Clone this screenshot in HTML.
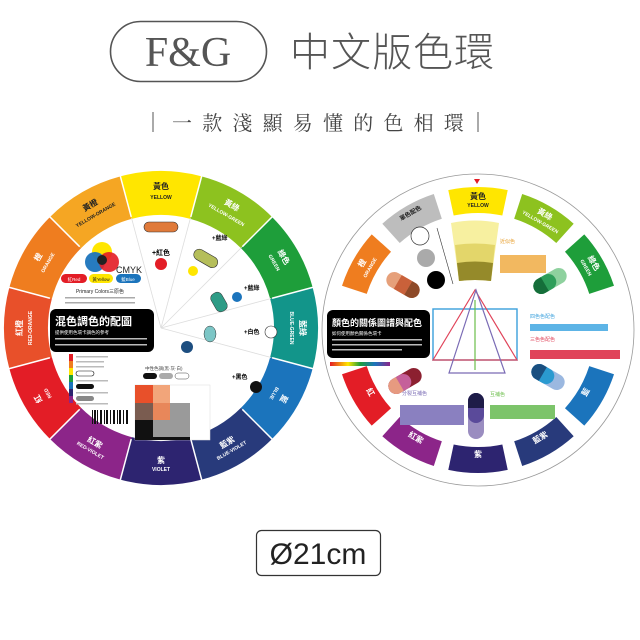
<!DOCTYPE html>
<html><head><meta charset="utf-8"><style>
html,body{margin:0;padding:0;background:#fff;}
svg{display:block;}
text{font-family:"Liberation Sans","Noto Sans CJK TC",sans-serif;}
</style></head><body>
<svg width="640" height="640" viewBox="0 0 640 640" xmlns="http://www.w3.org/2000/svg">
<!-- header -->
<rect x="110.5" y="21.5" width="156" height="60" rx="30" fill="none" stroke="#555" stroke-width="1.6"/>
<text x="188" y="66" text-anchor="middle" font-size="42" fill="#555" style="font-family:'Liberation Serif',serif">F&amp;G</text>
<text x="290" y="66" font-size="40" fill="#555" letter-spacing="1" style="font-family:'Liberation Sans','Noto Sans CJK TC',sans-serif;font-weight:300">中文版色環</text>
<line x1="153" y1="112" x2="153" y2="132" stroke="#555" stroke-width="1"/>
<line x1="478" y1="112" x2="478" y2="132" stroke="#555" stroke-width="1"/>
<text x="172" y="130" font-size="20" fill="#444" letter-spacing="10.2" style="font-family:'Noto Serif CJK SC','Noto Sans CJK TC',serif">一款淺顯易懂的色相環</text>
<!-- bottom box -->
<rect x="256.5" y="530.5" width="124" height="45" rx="5" fill="none" stroke="#333" stroke-width="1.2"/>
<text x="318" y="564" text-anchor="middle" font-size="30" fill="#222">Ø21cm</text>

<!-- LEFT WHEEL -->
<g>
<circle cx="161" cy="328" r="157" fill="#fff"/>
<g fill="none" stroke-width="44" stroke-dasharray="70.69 777.54">
<circle cx="161" cy="328" r="135" stroke="#FFE600" transform="rotate(-105 161 328)"/>
<circle cx="161" cy="328" r="135" stroke="#8DC21F" transform="rotate(-75 161 328)"/>
<circle cx="161" cy="328" r="135" stroke="#1E9E3A" transform="rotate(-45 161 328)"/>
<circle cx="161" cy="328" r="135" stroke="#12958A" transform="rotate(-15 161 328)"/>
<circle cx="161" cy="328" r="135" stroke="#1B74BC" transform="rotate(15 161 328)"/>
<circle cx="161" cy="328" r="135" stroke="#283A7B" transform="rotate(45 161 328)"/>
<circle cx="161" cy="328" r="135" stroke="#2D2470" transform="rotate(75 161 328)"/>
<circle cx="161" cy="328" r="135" stroke="#8C2589" transform="rotate(105 161 328)"/>
<circle cx="161" cy="328" r="135" stroke="#E31D26" transform="rotate(135 161 328)"/>
<circle cx="161" cy="328" r="135" stroke="#E8502A" transform="rotate(165 161 328)"/>
<circle cx="161" cy="328" r="135" stroke="#EF7D1F" transform="rotate(195 161 328)"/>
<circle cx="161" cy="328" r="135" stroke="#F5A623" transform="rotate(225 161 328)"/>
</g>
<g stroke="#fff" stroke-width="1.5">
<line x1="161" y1="213" x2="161" y2="169" transform="rotate(15 161 328)"/>
<line x1="161" y1="213" x2="161" y2="169" transform="rotate(45 161 328)"/>
<line x1="161" y1="213" x2="161" y2="169" transform="rotate(75 161 328)"/>
<line x1="161" y1="213" x2="161" y2="169" transform="rotate(105 161 328)"/>
<line x1="161" y1="213" x2="161" y2="169" transform="rotate(135 161 328)"/>
<line x1="161" y1="213" x2="161" y2="169" transform="rotate(165 161 328)"/>
<line x1="161" y1="213" x2="161" y2="169" transform="rotate(195 161 328)"/>
<line x1="161" y1="213" x2="161" y2="169" transform="rotate(225 161 328)"/>
<line x1="161" y1="213" x2="161" y2="169" transform="rotate(255 161 328)"/>
<line x1="161" y1="213" x2="161" y2="169" transform="rotate(285 161 328)"/>
<line x1="161" y1="213" x2="161" y2="169" transform="rotate(315 161 328)"/>
<line x1="161" y1="213" x2="161" y2="169" transform="rotate(345 161 328)"/>
</g>
<g stroke="#ddd" stroke-width="0.8">
<line x1="161" y1="328" x2="161" y2="214" transform="rotate(-15 161 328)"/>
<line x1="161" y1="328" x2="161" y2="214" transform="rotate(15 161 328)"/>
<line x1="161" y1="328" x2="161" y2="214" transform="rotate(45 161 328)"/>
<line x1="161" y1="328" x2="161" y2="214" transform="rotate(75 161 328)"/>
<line x1="161" y1="328" x2="161" y2="214" transform="rotate(105 161 328)"/>
</g>
<g font-size="8" font-weight="bold" text-anchor="middle">
<g transform="rotate(0 161 328)"><text x="161" y="189" fill="#222">黃色</text><text x="161" y="199" font-size="5" fill="#222">YELLOW</text></g>
<g transform="rotate(30 161 328)"><text x="161" y="189" fill="#fff">黃綠</text><text x="161" y="199" font-size="5" fill="#fff">YELLOW-GREEN</text></g>
<g transform="rotate(60 161 328)"><text x="161" y="189" fill="#fff">綠色</text><text x="161" y="199" font-size="5" fill="#fff">GREEN</text></g>
<g transform="rotate(90 161 328)"><text x="161" y="189" fill="#fff">藍綠</text><text x="161" y="199" font-size="5" fill="#fff">BLUE-GREEN</text></g>
<g transform="rotate(120 161 328)"><text x="161" y="189" fill="#fff">藍</text><text x="161" y="199" font-size="5" fill="#fff">BLUE</text></g>
<g transform="rotate(330 161 328)"><text x="161" y="189" fill="#222">黃橙</text><text x="161" y="199" font-size="5" fill="#222">YELLOW-ORANGE</text></g>
<g transform="rotate(300 161 328)"><text x="161" y="189" fill="#fff">橙</text><text x="161" y="199" font-size="5" fill="#fff">ORANGE</text></g>
<g transform="rotate(270 161 328)"><text x="161" y="189" fill="#fff">紅橙</text><text x="161" y="199" font-size="5" fill="#fff">RED-ORANGE</text></g>
<g transform="rotate(240 161 328)"><text x="161" y="189" fill="#fff">紅</text><text x="161" y="199" font-size="5" fill="#fff">RED</text></g>
<g transform="rotate(150 161 328) rotate(180 161 193)"><text x="161" y="193" fill="#fff">藍紫</text><text x="161" y="201" font-size="5" fill="#fff">BLUE-VIOLET</text></g>
<g transform="rotate(180 161 328) rotate(180 161 193)"><text x="161" y="193" fill="#fff">紫</text><text x="161" y="201" font-size="5" fill="#fff">VIOLET</text></g>
<g transform="rotate(210 161 328) rotate(180 161 193)"><text x="161" y="193" fill="#fff">紅紫</text><text x="161" y="201" font-size="5" fill="#fff">RED-VIOLET</text></g>
</g>
<rect x="144" y="222" width="34" height="10" rx="5" fill="#E07A3A" stroke="#333" stroke-width="0.6"/>
<text x="161" y="255" font-size="7" font-weight="bold" text-anchor="middle">+紅色</text>
<circle cx="161" cy="264" r="6" fill="#E31D26"/>
<rect x="193" y="253" width="26" height="11" rx="5.5" fill="#B5BE5A" stroke="#333" stroke-width="0.6" transform="rotate(30 206 258)"/>
<circle cx="193" cy="271" r="5" fill="#FFE600"/>
<text x="212" y="240" font-size="6" font-weight="bold">+藍綠</text>
<rect x="213" y="292" width="12" height="20" rx="5" fill="#2E9C86" stroke="#333" stroke-width="0.5" transform="rotate(-30 219 302)"/>
<circle cx="237" cy="297" r="5" fill="#1B74BC"/>
<text x="244" y="290" font-size="6" font-weight="bold">+藍綠</text>
<ellipse cx="210" cy="334" rx="6" ry="8" fill="#7CC6C6" stroke="#333" stroke-width="0.5"/>
<text x="244" y="334" font-size="6" font-weight="bold">+白色</text>
<circle cx="271" cy="332" r="6" fill="#fff" stroke="#333" stroke-width="0.6"/>
<circle cx="187" cy="347" r="6" fill="#1D4E80"/>
<text x="232" y="379" font-size="6" font-weight="bold">+黑色</text>
<circle cx="256" cy="387" r="6" fill="#111"/>
<circle cx="102" cy="252" r="10" fill="#FFE600"/>
<circle cx="95" cy="262" r="10" fill="#1B74BC" opacity="0.95"/>
<circle cx="109" cy="262" r="10" fill="#E31D26" opacity="0.9"/>
<circle cx="102" cy="260" r="5" fill="#222"/>
<text x="116" y="273" font-size="9" fill="#222">CMYK</text>
<rect x="61" y="274" width="26" height="9" rx="4.5" fill="#E31D26"/>
<rect x="89" y="274" width="24" height="9" rx="4.5" fill="#FFE600"/>
<rect x="116" y="274" width="25" height="9" rx="4.5" fill="#1B74BC"/>
<text x="74" y="281" font-size="4.5" fill="#fff" text-anchor="middle">紅Red</text>
<text x="101" y="281" font-size="4.5" fill="#222" text-anchor="middle">黃Yellow</text>
<text x="128" y="281" font-size="4.5" fill="#fff" text-anchor="middle">藍Blue</text>
<text x="100" y="293" font-size="5" text-anchor="middle" fill="#222">Primary Colors三原色</text>
<rect x="65" y="297" width="70" height="1.5" fill="#aaa"/><rect x="65" y="302" width="70" height="1.5" fill="#aaa"/>
<rect x="50" y="309" width="104" height="43" rx="6" fill="#000"/>
<text x="55" y="325" font-size="11" font-weight="bold" fill="#fff">混色調色的配圖</text>
<text x="55" y="334" font-size="4.5" fill="#fff">提供使用色環卡調色的參考</text>
<rect x="55" y="338" width="92" height="1.5" fill="#bbb"/><rect x="55" y="344" width="92" height="1.5" fill="#bbb"/>
<g>
<rect x="69" y="354" width="4" height="7" fill="#E31D26"/><rect x="69" y="361" width="4" height="7" fill="#EF7D1F"/><rect x="69" y="368" width="4" height="7" fill="#FFE600"/><rect x="69" y="375" width="4" height="7" fill="#1E9E3A"/><rect x="69" y="382" width="4" height="7" fill="#1B74BC"/><rect x="69" y="389" width="4" height="7" fill="#2D2470"/><rect x="69" y="396" width="4" height="7" fill="#8C2589"/>
</g>
<g fill="#bbb"><rect x="76" y="356" width="32" height="1.5"/><rect x="76" y="361" width="28" height="1.5"/><rect x="76" y="366" width="28" height="1.5"/><rect x="76" y="380" width="32" height="1.5"/><rect x="76" y="392" width="32" height="1.5"/><rect x="76" y="403" width="32" height="1.5"/></g>
<rect x="76" y="371" width="18" height="5" rx="2.5" fill="#fff" stroke="#111" stroke-width="0.6"/>
<rect x="76" y="384" width="18" height="5" rx="2.5" fill="#111"/>
<rect x="76" y="396" width="18" height="5" rx="2.5" fill="#888"/>
<g fill="#111">
<rect x="92" y="410" width="1" height="14"/><rect x="94" y="410" width="2" height="14"/><rect x="97" y="410" width="1" height="14"/><rect x="100" y="410" width="2" height="14"/><rect x="104" y="410" width="1" height="14"/><rect x="106" y="410" width="2" height="14"/><rect x="110" y="410" width="1" height="14"/><rect x="113" y="410" width="2" height="14"/><rect x="117" y="410" width="1" height="14"/><rect x="119" y="410" width="2" height="14"/><rect x="123" y="410" width="1" height="14"/><rect x="126" y="410" width="2" height="14"/>
</g>
<text x="145" y="370" font-size="4.5" fill="#444">中性色調(黑·灰·白)</text>
<rect x="143" y="373" width="14" height="6" rx="3" fill="#111"/>
<rect x="159" y="373" width="14" height="6" rx="3" fill="#aaa"/>
<rect x="175" y="373" width="14" height="6" rx="3" fill="#fff" stroke="#444" stroke-width="0.5"/>
<rect x="135" y="385" width="75" height="55" fill="#fff" stroke="#ddd" stroke-width="0.5"/>
<rect x="135" y="385" width="18" height="18" fill="#E8502A"/>
<rect x="153" y="385" width="17" height="18" fill="#F2A57A"/>
<rect x="135" y="403" width="18" height="17" fill="#7A5C50"/>
<rect x="153" y="403" width="17" height="17" fill="#E8875A"/>
<rect x="170" y="403" width="20" height="37" fill="#9A9A9A"/>
<rect x="153" y="420" width="17" height="17" fill="#9A9A9A"/>
<rect x="135" y="420" width="18" height="20" fill="#111"/>
<rect x="153" y="437" width="37" height="3" fill="#111"/>
</g>

<!-- RIGHT WHEEL -->
<g>
<circle cx="478" cy="330" r="156" fill="#fff" stroke="#999" stroke-width="0.8"/>
<g fill="none" stroke-width="26" stroke-dasharray="54.45 762.35">
<circle cx="478" cy="330" r="130" stroke="#FFE600" transform="rotate(-102 478 330)"/>
<circle cx="478" cy="330" r="130" stroke="#8DC21F" transform="rotate(-72 478 330)"/>
<circle cx="478" cy="330" r="130" stroke="#1E9E3A" transform="rotate(-42 478 330)"/>
<circle cx="478" cy="330" r="130" stroke="#1B74BC" transform="rotate(18 478 330)"/>
<circle cx="478" cy="330" r="130" stroke="#283A7B" transform="rotate(48 478 330)"/>
<circle cx="478" cy="330" r="130" stroke="#2D2470" transform="rotate(78 478 330)"/>
<circle cx="478" cy="330" r="130" stroke="#8C2589" transform="rotate(108 478 330)"/>
<circle cx="478" cy="330" r="130" stroke="#E31D26" transform="rotate(138 478 330)"/>
<circle cx="478" cy="330" r="130" stroke="#EF7D1F" transform="rotate(198 478 330)"/>
<circle cx="478" cy="330" r="130" stroke="#BDBDBD" transform="rotate(228 478 330)"/>
</g>
<g font-size="8" font-weight="bold" text-anchor="middle">
<g><text x="478" y="199" fill="#222">黃色</text><text x="478" y="207" font-size="5" fill="#222">YELLOW</text></g>
<g transform="rotate(30 478 330)"><text x="478" y="199" fill="#fff">黃綠</text><text x="478" y="207" font-size="5" fill="#fff">YELLOW-GREEN</text></g>
<g transform="rotate(60 478 330)"><text x="478" y="199" fill="#fff">綠色</text><text x="478" y="207" font-size="5" fill="#fff">GREEN</text></g>
<g transform="rotate(300 478 330)"><text x="478" y="199" fill="#fff">橙</text><text x="478" y="207" font-size="5" fill="#fff">ORANGE</text></g>
<g transform="rotate(330 478 330)"><text x="478" y="197" font-size="6" fill="#222">單色配色</text></g>
<g transform="rotate(120 478 330) rotate(180 478 203)"><text x="478" y="203" fill="#fff">藍</text></g>
<g transform="rotate(150 478 330) rotate(180 478 203)"><text x="478" y="203" fill="#fff">藍紫</text></g>
<g transform="rotate(180 478 330) rotate(180 478 203)"><text x="478" y="203" fill="#fff">紫</text></g>
<g transform="rotate(210 478 330) rotate(180 478 203)"><text x="478" y="203" fill="#fff">紅紫</text></g>
<g transform="rotate(240 478 330) rotate(180 478 203)"><text x="478" y="203" fill="#fff">紅</text></g>
</g>
<polygon points="474,179 480,179 477,184" fill="#E31D26"/>
<path d="M451,223 Q475,218 499,223 L491,281 Q475,279 459,281 Z" fill="#F7F0A0"/>
<path d="M455,245 Q475,242 495,245 L491,281 Q475,279 459,281 Z" fill="#E3D66A"/>
<path d="M457,263 Q475,260 493,263 L491,281 Q475,279 459,281 Z" fill="#958A2A"/>
<circle cx="420" cy="236" r="9" fill="#fff" stroke="#333" stroke-width="0.7"/>
<circle cx="426" cy="258" r="9" fill="#aaa"/>
<circle cx="436" cy="280" r="9" fill="#000"/>
<line x1="437" y1="228" x2="453" y2="284" stroke="#333" stroke-width="0.6"/>
<rect x="433" y="309" width="84" height="51" fill="none" stroke="#3AA0DC" stroke-width="1.4"/>
<polygon points="475,290 433,360 517,360" fill="none" stroke="#E0445A" stroke-width="1.2"/>
<polygon points="476,290 449,373 505,373" fill="none" stroke="#7A6BB5" stroke-width="1.2"/>
<line x1="475" y1="300" x2="475" y2="370" stroke="#6BBE4A" stroke-width="1.2"/>
<rect x="327" y="310" width="103" height="48" rx="6" fill="#000"/>
<text x="332" y="326" font-size="9" font-weight="bold" fill="#fff">顏色的關係圖譜與配色</text>
<text x="332" y="335" font-size="4.5" fill="#fff">如何使用顏色關係色環卡</text>
<rect x="332" y="339" width="90" height="1.5" fill="#bbb"/><rect x="332" y="344" width="90" height="1.5" fill="#bbb"/><rect x="332" y="349" width="70" height="1.5" fill="#bbb"/>
<rect x="330" y="362" width="60" height="4" fill="url(#rb)"/>
<defs><linearGradient id="rb"><stop offset="0" stop-color="#E31D26"/><stop offset="0.3" stop-color="#FFE600"/><stop offset="0.5" stop-color="#1E9E3A"/><stop offset="0.75" stop-color="#1B74BC"/><stop offset="1" stop-color="#8C2589"/></linearGradient></defs>
<g transform="rotate(30 403 285)"><rect x="385" y="277" width="36" height="16" rx="8" fill="#E6A07A"/><rect x="397" y="277" width="12" height="16" fill="#C9613A"/><path d="M409,277 h4 a8,8 0 0 1 0,16 h-4z" fill="#8E4A28"/></g>
<g transform="rotate(-30 550 281)"><rect x="532" y="273" width="36" height="16" rx="8" fill="#8ED19E"/><rect x="532" y="273" width="24" height="16" rx="8" fill="#2E9E5A"/><path d="M540,273 a8,8 0 0 0 0,16 h4 v-16z" fill="#156E3A"/></g>
<g transform="rotate(-30 405 381)"><rect x="387" y="373" width="36" height="16" rx="8" fill="#8C2030"/><rect x="387" y="373" width="24" height="16" rx="8" fill="#C5609A"/><path d="M395,373 a8,8 0 0 0 0,16 h4 v-16z" fill="#E69A80"/></g>
<g transform="rotate(30 548 377)"><rect x="530" y="369" width="36" height="16" rx="8" fill="#9BB8E0"/><rect x="530" y="369" width="24" height="16" rx="8" fill="#2A9AD0"/><path d="M538,369 a8,8 0 0 0 0,16 h4 v-16z" fill="#1A4F80"/></g>
<rect x="468" y="393" width="16" height="46" rx="8" fill="#9A8DC0"/>
<rect x="468" y="393" width="16" height="30" rx="8" fill="#5A4A9A"/>
<path d="M468,408 v-7 a8,8 0 0 1 16,0 v7z" fill="#1E1C48"/>
<text x="500" y="243" font-size="5" fill="#E8A030">近似色</text>
<rect x="500" y="255" width="46" height="18" fill="#F2B860"/>
<text x="530" y="318" font-size="5" fill="#3AA0DC">四色色配色</text>
<rect x="530" y="324" width="78" height="7" fill="#5DB4E6"/>
<text x="530" y="341" font-size="5" fill="#E0445A">三色色配色</text>
<rect x="530" y="350" width="90" height="9" fill="#E0445A"/>
<text x="490" y="396" font-size="5" fill="#6BBE4A">互補色</text>
<rect x="490" y="405" width="65" height="14" fill="#7CC46A"/>
<text x="402" y="395" font-size="5" fill="#7A6BB5">分裂互補色</text>
<rect x="400" y="405" width="64" height="20" fill="#8A80C0"/>
</g>
</svg>
</body></html>
